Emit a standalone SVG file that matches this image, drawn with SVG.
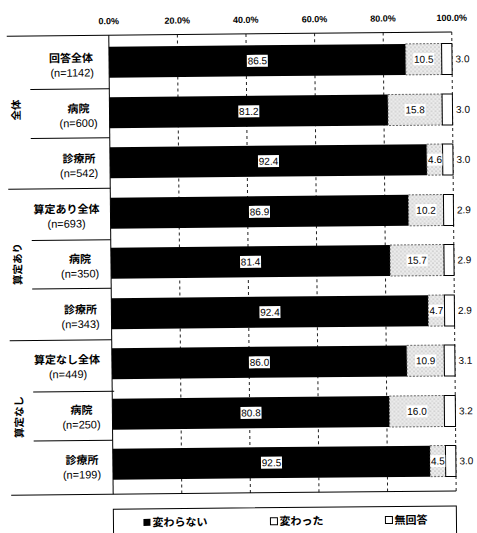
<svg xmlns="http://www.w3.org/2000/svg" width="477" height="533" viewBox="0 0 477 533">
<defs>
<pattern id="stip" width="4" height="4" patternUnits="userSpaceOnUse">
<rect width="4" height="4" fill="#ececec"/>
<circle cx="1" cy="1" r="0.6" fill="#8a8a8a"/>
<circle cx="3" cy="3" r="0.6" fill="#a8a8a8"/>
</pattern>
</defs>
<style>
.ax{font-family:"Liberation Sans",Arial,sans-serif;font-size:9px;font-weight:bold;text-anchor:middle;fill:#000}
.cj{font-family:"Noto Sans CJK JP","Noto Sans CJK SC",sans-serif;font-size:11px;font-weight:bold;text-anchor:middle;fill:#000}
.nn{font-family:"Liberation Sans",Arial,sans-serif;font-size:11px;text-anchor:middle;fill:#000}
.gl{font-family:"Noto Sans CJK JP","Noto Sans CJK SC",sans-serif;font-size:10.5px;font-weight:bold;text-anchor:middle;fill:#000}
.v{font-family:"Liberation Sans",Arial,sans-serif;font-size:10px;text-anchor:middle;fill:#000}
.vo{font-family:"Liberation Sans",Arial,sans-serif;font-size:10px;fill:#000}
.lg{font-family:"Noto Sans CJK JP","Noto Sans CJK SC",sans-serif;font-size:11px;font-weight:bold;fill:#000}
.blk{fill:#000}
.gry{fill:url(#stip);stroke:#444;stroke-width:0.8;stroke-dasharray:2,1.5}
.wht{fill:#fff;stroke:#000;stroke-width:1}
.lb{fill:#fff}
.ln{stroke:#000;stroke-width:1;fill:none}
.grid{stroke:#222;stroke-width:1;stroke-dasharray:3,3;fill:none}
</style>
<rect width="477" height="533" fill="#fff"/>
<g transform="rotate(-0.55 238 266)">
<g id="axis">
<text class="ax" x="111" y="23">0.0%</text>
<text class="ax" x="179.6" y="23">20.0%</text>
<text class="ax" x="248.2" y="23">40.0%</text>
<text class="ax" x="316.8" y="23">60.0%</text>
<text class="ax" x="385.4" y="23">80.0%</text>
<text class="ax" x="454" y="23">100.0%</text>
<line class="grid" x1="179.6" y1="34" x2="179.6" y2="493"/>
<line class="grid" x1="248.2" y1="34" x2="248.2" y2="493"/>
<line class="grid" x1="316.8" y1="34" x2="316.8" y2="493"/>
<line class="grid" x1="385.4" y1="34" x2="385.4" y2="493"/>
<line class="grid" x1="454" y1="34" x2="454" y2="493"/>
<line class="ln" x1="9" y1="34" x2="454" y2="34"/>
<line class="ln" x1="9" y1="493" x2="454" y2="493"/>
<line class="ln" x1="111" y1="34" x2="111" y2="493"/>
<line class="ln" x1="32" y1="87.5" x2="111" y2="87.5"/>
<line class="ln" x1="32" y1="136.5" x2="111" y2="136.5"/>
<line class="ln" x1="9" y1="187" x2="111" y2="187"/>
<line class="ln" x1="32" y1="238.5" x2="111" y2="238.5"/>
<line class="ln" x1="32" y1="287" x2="111" y2="287"/>
<line class="ln" x1="9" y1="338.5" x2="111" y2="338.5"/>
<line class="ln" x1="32" y1="390" x2="113" y2="390"/>
<line class="ln" x1="32" y1="439" x2="111" y2="439"/>
</g>
<g id="groups">
<text class="gl" transform="translate(21.5 108) rotate(-90)">全体</text>
<text class="gl" transform="translate(21.5 262) rotate(-90)">算定あり</text>
<text class="gl" transform="translate(21.5 415) rotate(-90)">算定なし</text>
</g>
<g id="row1">
<text class="cj" x="73" y="60.5">回答全体</text>
<text class="nn" x="74" y="75">(n=1142)</text>
<rect class="blk" x="111" y="45.5" width="296.7" height="31"/>
<rect class="gry" x="407.7" y="45.5" width="36" height="31"/>
<rect class="wht" x="443.7" y="45.5" width="10.3" height="31"/>
<rect class="lb" x="248.8" y="55" width="21" height="12"/>
<text class="v" x="259.3" y="64.5">86.5</text>
<rect class="lb" x="415.2" y="55" width="21" height="12"/>
<text class="v" x="425.7" y="64.5">10.5</text>
<text class="vo" x="457.5" y="64.5">3.0</text>
</g>
<g id="row2">
<text class="cj" x="80" y="111">病院</text>
<text class="nn" x="80" y="125.5">(n=600)</text>
<rect class="blk" x="111" y="96" width="278.5" height="31"/>
<rect class="gry" x="389.5" y="96" width="54.2" height="31"/>
<rect class="wht" x="443.7" y="96" width="10.3" height="31"/>
<rect class="lb" x="239.8" y="105.5" width="21" height="12"/>
<text class="v" x="250.3" y="115">81.2</text>
<rect class="lb" x="406.1" y="105.5" width="21" height="12"/>
<text class="v" x="416.6" y="115">15.8</text>
<text class="vo" x="457.5" y="115">3.0</text>
</g>
<g id="row3">
<text class="cj" x="80" y="161">診療所</text>
<text class="nn" x="80" y="175.5">(n=542)</text>
<rect class="blk" x="111" y="146" width="316.9" height="31"/>
<rect class="gry" x="427.9" y="146" width="15.8" height="31"/>
<rect class="wht" x="443.7" y="146" width="10.3" height="31"/>
<rect class="lb" x="259" y="155.5" width="21" height="12"/>
<text class="v" x="269.5" y="165">92.4</text>
<rect class="lb" x="428.5" y="155.5" width="15" height="12"/>
<text class="v" x="436" y="165">4.6</text>
<text class="vo" x="457.5" y="165">3.0</text>
</g>
<g id="row4">
<text class="cj" x="67" y="211.5">算定あり全体</text>
<text class="nn" x="67" y="226">(n=693)</text>
<rect class="blk" x="111" y="196.5" width="298.1" height="31"/>
<rect class="gry" x="409.1" y="196.5" width="35" height="31"/>
<rect class="wht" x="444.1" y="196.5" width="9.9" height="31"/>
<rect class="lb" x="249.5" y="206" width="21" height="12"/>
<text class="v" x="260" y="215.5">86.9</text>
<rect class="lb" x="416.1" y="206" width="21" height="12"/>
<text class="v" x="426.6" y="215.5">10.2</text>
<text class="vo" x="457.5" y="215.5">2.9</text>
</g>
<g id="row5">
<text class="cj" x="80" y="261.5">病院</text>
<text class="nn" x="80" y="276">(n=350)</text>
<rect class="blk" x="111" y="246.5" width="279.2" height="31"/>
<rect class="gry" x="390.2" y="246.5" width="53.9" height="31"/>
<rect class="wht" x="444.1" y="246.5" width="9.9" height="31"/>
<rect class="lb" x="240.1" y="256" width="21" height="12"/>
<text class="v" x="250.6" y="265.5">81.4</text>
<rect class="lb" x="406.7" y="256" width="21" height="12"/>
<text class="v" x="417.2" y="265.5">15.7</text>
<text class="vo" x="457.5" y="265.5">2.9</text>
</g>
<g id="row6">
<text class="cj" x="80" y="312">診療所</text>
<text class="nn" x="80" y="326.5">(n=343)</text>
<rect class="blk" x="111" y="297" width="316.9" height="31"/>
<rect class="gry" x="427.9" y="297" width="16.2" height="31"/>
<rect class="wht" x="444.1" y="297" width="9.9" height="31"/>
<rect class="lb" x="259" y="306.5" width="21" height="12"/>
<text class="v" x="269.5" y="316">92.4</text>
<rect class="lb" x="428.5" y="306.5" width="15" height="12"/>
<text class="v" x="436" y="316">4.7</text>
<text class="vo" x="457.5" y="316">2.9</text>
</g>
<g id="row7">
<text class="cj" x="66" y="362">算定なし全体</text>
<text class="nn" x="67" y="376.5">(n=449)</text>
<rect class="blk" x="111" y="347" width="295" height="31"/>
<rect class="gry" x="406" y="347" width="37.4" height="31"/>
<rect class="wht" x="443.4" y="347" width="10.6" height="31"/>
<rect class="lb" x="248" y="356.5" width="21" height="12"/>
<text class="v" x="258.5" y="366">86.0</text>
<rect class="lb" x="414.2" y="356.5" width="21" height="12"/>
<text class="v" x="424.7" y="366">10.9</text>
<text class="vo" x="457.5" y="366">3.1</text>
</g>
<g id="row8">
<text class="cj" x="80" y="412.5">病院</text>
<text class="nn" x="80" y="427">(n=250)</text>
<rect class="blk" x="111" y="397.5" width="277.1" height="31"/>
<rect class="gry" x="388.1" y="397.5" width="54.9" height="31"/>
<rect class="wht" x="443" y="397.5" width="11" height="31"/>
<rect class="lb" x="239.1" y="407" width="21" height="12"/>
<text class="v" x="249.6" y="416.5">80.8</text>
<rect class="lb" x="405.1" y="407" width="21" height="12"/>
<text class="v" x="415.6" y="416.5">16.0</text>
<text class="vo" x="457.5" y="416.5">3.2</text>
</g>
<g id="row9">
<text class="cj" x="80" y="462.5">診療所</text>
<text class="nn" x="80" y="477">(n=199)</text>
<rect class="blk" x="111" y="447.5" width="317.3" height="31"/>
<rect class="gry" x="428.3" y="447.5" width="15.4" height="31"/>
<rect class="wht" x="443.7" y="447.5" width="10.3" height="31"/>
<rect class="lb" x="259.1" y="457" width="21" height="12"/>
<text class="v" x="269.6" y="466.5">92.5</text>
<rect class="lb" x="428.5" y="457" width="15" height="12"/>
<text class="v" x="436" y="466.5">4.5</text>
<text class="vo" x="457.5" y="466.5">3.0</text>
</g>
<g id="legend">
<rect class="ln" x="111" y="508" width="343" height="40"/>
<rect x="141" y="518" width="7" height="7" fill="#000"/>
<text class="lg" x="150" y="525.5">変わらない</text>
<rect x="268" y="518" width="7" height="7" fill="#fff" stroke="#000" stroke-width="1"/>
<text class="lg" x="277" y="525.5">変わった</text>
<rect x="383" y="518" width="7" height="7" fill="#fff" stroke="#000" stroke-width="1"/>
<text class="lg" x="392" y="525.5">無回答</text>
</g>
<g id="connectors"/>
</g>
</svg>
